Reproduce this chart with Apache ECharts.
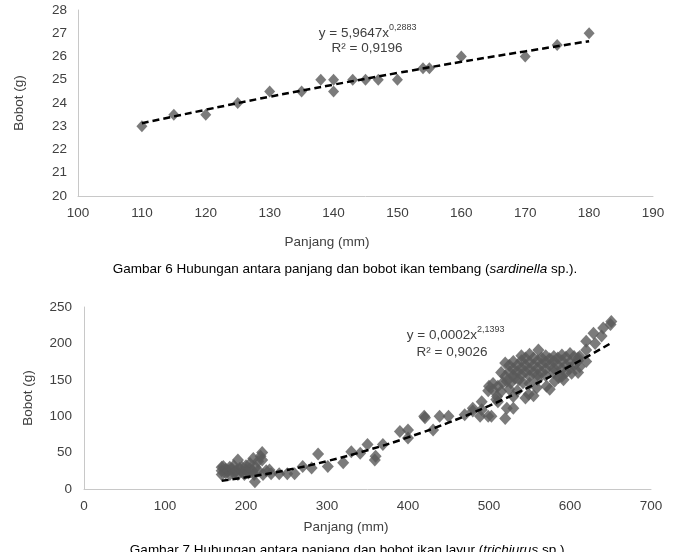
<!DOCTYPE html>
<html>
<head>
<meta charset="utf-8">
<script src="https://cdn.jsdelivr.net/npm/echarts@6/dist/echarts.min.js"></script>
<style>html,body{margin:0;padding:0;background:#fff;}#c{width:698px;height:552px;}</style>
</head>
<body>
<div id="c"></div>
<script>
// ---- Chart 1: sardinella ----
const topX = [110,115,120,125,130,135,138,140,140,143,145,147,150,154,155,160,170,175,180];
const topY = [23,23.5,23.5,24,24.5,24.5,25,25,24.5,25,25,25,25,25.5,25.5,26,26,26.5,27];
const topTrendX = [110,120,130,140,150,160,170,180];
const topTrendY = [23.13,23.71,24.27,24.79,25.29,25.77,26.22,26.66];
const topXTicks = [100,110,120,130,140,150,160,170,180,190];
const topYTicks = [20,21,22,23,24,25,26,27,28];

// ---- Chart 2: trichiurus ----
const botX = [170,170,170,172,175,175,178,180,180,183,185,185,188,190,190,192,195,195,198,200,200,203,205,205,208,209,210,211,212,215,215,218,220,220,221,225,229,231,241,251,260,270,281,289,301,320,330,341,350,359,360,369,390,400,400,420,421,431,439,450,470,480,480,489,491,491,499,503,509,511,520,522,530,530,
 540,550,561,570,580,590,600,605,545,555,565,575,585,595,
 520,530,540,550,560,570,580,590,600,610,525,535,545,555,565,575,585,595,605,
 530,540,550,560,570,580,590,600,612,
 520,530,540,550,560,570,590,602,610,515,525,535,545,555,565,580,595,
 500,511,522,532,542,550,571,581,592,505,517,527,537,560,586,
 499,505,515,525,535,549,559,575,
 510,545,555,
 612,620,620,629,631,639,641,650,651,620,610];
const botY = [20,25,30,31,22,27,25,20,30,27,22,32,25,40,20,28,24,30,20,26,32,22,28,35,25,42,20,10,30,25,38,45,50,40,20,25,26,21,21,21,21,31,29,48,31,36,51,49,61,40,45,61,79,81,70,100,98,81,100,100,102,107,111,100,120,109,100,100,123,120,97,111,111,127,
 183,185,191,183,182,184,186,182,180,180,180,179,180,181,
 173,175,176,174,176,174,175,176,174,176,170,170,170,170,171,170,170,170,170,
 165,166,164,166,165,166,165,166,168,
 155,156,157,155,157,156,155,159,160,160,161,161,161,160,160,160,160,
 141,141,148,152,146,145,141,148,150,145,146,146,150,150,153,
 135,136,134,137,135,130,139,137,
 127,125,128,
 182,191,203,214,200,210,221,226,230,175,180];
const botTrendX = [170,200,250,300,350,400,450,500,550,600,650];
const botTrendY = [11.3,16.1,25.9,38.3,53.3,70.9,91.2,114.3,140.2,168.8,200];
const botXTicks = [0,100,200,300,400,500,600,700];
const botYTicks = [0,50,100,150,200,250];

const FONT = '"Liberation Sans", Arial, sans-serif';
const TICK = '#404040';
const AXIS = '#c8c8c8';
const MARK = '#5a5a5a';

const chart = echarts.init(document.getElementById('c'), null, {renderer: 'canvas'});

function xa(idx, ticks, gap) {
  return {
    type: 'value', gridIndex: idx,
    min: ticks[0], max: ticks[ticks.length-1], interval: ticks[1]-ticks[0],
    axisLine: {show: true, lineStyle: {color: AXIS, width: 1}},
    axisTick: {show: false},
    splitLine: {show: false},
    axisLabel: {color: TICK, fontFamily: FONT, fontSize: 13.5, margin: gap}
  };
}
function ya(idx, ticks, gap, nameGap) {
  return {
    type: 'value', gridIndex: idx,
    min: ticks[0], max: ticks[ticks.length-1], interval: ticks[1]-ticks[0],
    axisLine: {show: true, lineStyle: {color: AXIS, width: 1}},
    axisTick: {show: false},
    splitLine: {show: false},
    axisLabel: {color: TICK, fontFamily: FONT, fontSize: 13.5, margin: gap},
    name: 'Bobot (g)', nameLocation: 'middle', nameGap: nameGap,
    nameTextStyle: {color: TICK, fontFamily: FONT, fontSize: 13.5}
  };
}

const zip = (a, b) => a.map((v, i) => [v, b[i]]);

chart.setOption({
  animation: false,
  backgroundColor: '#ffffff',
  grid: [
    {left: 78, right: 45, top: 10, bottom: 356},
    {left: 84, right: 47, top: 307, bottom: 63}
  ],
  xAxis: [xa(0, topXTicks, 10), xa(1, botXTicks, 10)],
  yAxis: [ya(0, topYTicks, 11, 52), ya(1, botYTicks, 12, 49)],
  series: [
    {type: 'scatter', xAxisIndex: 0, yAxisIndex: 0, data: zip(topX, topY),
     symbol: 'diamond', symbolSize: [11, 12], itemStyle: {color: MARK}},
    {type: 'line', xAxisIndex: 0, yAxisIndex: 0, data: zip(topTrendX, topTrendY),
     smooth: true, showSymbol: false, symbol: 'none',
     lineStyle: {color: '#000', width: 2.5, type: [7, 4]}, z: 3},
    {type: 'scatter', xAxisIndex: 1, yAxisIndex: 1, data: zip(botX, botY),
     symbol: 'diamond', symbolSize: [12, 13], itemStyle: {color: MARK}},
    {type: 'line', xAxisIndex: 1, yAxisIndex: 1, data: zip(botTrendX, botTrendY),
     smooth: true, showSymbol: false, symbol: 'none',
     lineStyle: {color: '#000', width: 2.5, type: [7, 4]}, z: 3}
  ],
  graphic: [
    {type: 'text', x: 389, y: 33, style: {text: 'y = 5,9647x', fill: '#404040', font: '13.5px ' + FONT, textAlign: 'right', textVerticalAlign: 'middle'}},
    {type: 'text', x: 389, y: 28, style: {text: '0,2883', fill: '#404040', font: '9px ' + FONT, textAlign: 'left', textVerticalAlign: 'middle'}},
    {type: 'text', x: 367, y: 48, style: {text: 'R² = 0,9196', fill: '#404040', font: '13.5px ' + FONT, textAlign: 'center', textVerticalAlign: 'middle'}},
    {type: 'text', x: 477, y: 335, style: {text: 'y = 0,0002x', fill: '#404040', font: '13.5px ' + FONT, textAlign: 'right', textVerticalAlign: 'middle'}},
    {type: 'text', x: 477, y: 330, style: {text: '2,1393', fill: '#404040', font: '9px ' + FONT, textAlign: 'left', textVerticalAlign: 'middle'}},
    {type: 'text', x: 452, y: 352, style: {text: 'R² = 0,9026', fill: '#404040', font: '13.5px ' + FONT, textAlign: 'center', textVerticalAlign: 'middle'}},
    {type: 'text', x: 327, y: 242, style: {text: 'Panjang (mm)', fill: '#404040', font: '13.5px ' + FONT, textAlign: 'center', textVerticalAlign: 'middle'}},
    {type: 'text', x: 346, y: 527, style: {text: 'Panjang (mm)', fill: '#404040', font: '13.5px ' + FONT, textAlign: 'center', textVerticalAlign: 'middle'}},
    {type: 'text', x: 345, y: 269, style: {
      text: '{n|Gambar 6 Hubungan antara panjang dan bobot ikan tembang (}{i|sardinella}{n| sp.).}',
      textAlign: 'center', textVerticalAlign: 'middle',
      rich: {n: {fill: '#000', fontFamily: FONT, fontSize: 13.5}, i: {fill: '#000', fontFamily: FONT, fontSize: 13.5, fontStyle: 'italic'}}
    }},
    {type: 'text', x: 349, y: 550, style: {
      text: '{n|Gambar 7 Hubungan antara panjang dan bobot ikan layur (}{i|trichiurus}{n| sp.).}',
      textAlign: 'center', textVerticalAlign: 'middle',
      rich: {n: {fill: '#000', fontFamily: FONT, fontSize: 13.5}, i: {fill: '#000', fontFamily: FONT, fontSize: 13.5, fontStyle: 'italic'}}
    }}
  ]
});
</script>
</body>
</html>
